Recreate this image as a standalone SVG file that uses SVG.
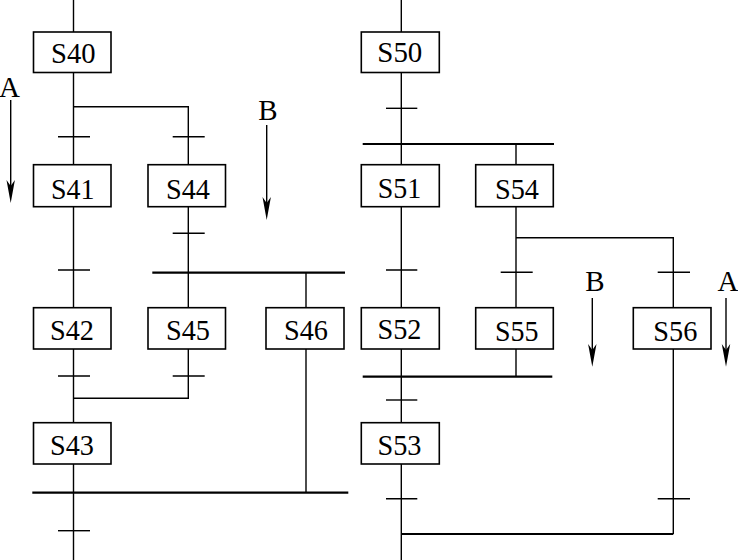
<svg xmlns="http://www.w3.org/2000/svg" width="738" height="560" viewBox="0 0 738 560">
<defs>
<style>
.box{fill:#fff;stroke:#000;stroke-width:1.6}
.t{font-family:"Liberation Serif","Times New Roman",serif;font-size:30px;fill:#000;text-anchor:middle}
.lb{font-family:"Liberation Serif","Times New Roman",serif;font-size:29px;fill:#000;text-anchor:middle}
.ln{stroke:#000;stroke-width:1.4;fill:none}
.bar{stroke:#000;stroke-width:2.2;fill:none}
.ah{fill:#000}
</style>
</defs>
<rect width="738" height="560" fill="#fff"/>
<g id="connectors">
<path class="ln" d="M73.5 0V560"/>
<path class="ln" d="M73.5 106.7H188.3V307.7"/>
<path class="ln" d="M58 136.7H90M172.7 136.7H204.7"/>
<path class="ln" d="M172.7 233.3H204.7M58 270H90"/>
<path class="bar" d="M152.3 272.7H345"/>
<path class="ln" d="M306 272.7V492.7"/>
<path class="ln" d="M58 376H90M172.7 376H204.7"/>
<path class="ln" d="M188.3 349V398.3H73.5"/>
<path class="bar" d="M32.3 492.7H348.3"/>
<path class="ln" d="M58 530.7H90"/>
<path class="ln" d="M401.3 0V560"/>
<path class="ln" d="M386 108.3H417.3"/>
<path class="bar" d="M362.7 144H554"/>
<path class="ln" d="M516 144V376.7"/>
<path class="ln" d="M516 237.7H673.3V534"/>
<path class="ln" d="M386 270H417.3M500.7 272.3H532.7M657.7 272.3H690"/>
<path class="bar" d="M362.7 376.7H552.3"/>
<path class="ln" d="M386 400H417.3"/>
<path class="ln" d="M386 498.7H417.3M657.7 498.7H690"/>
<path class="bar" d="M401.3 534H673.3"/>
</g>
<g id="S40"><rect class="box" x="33.5" y="32" width="77.5" height="40.5"/><text class="t" x="73.3" y="62.5" textLength="44.5" lengthAdjust="spacingAndGlyphs">S40</text></g>
<g id="S41"><rect class="box" x="33.5" y="164.7" width="77.5" height="42"/><text class="t" x="72.7" y="199" textLength="43.5" lengthAdjust="spacingAndGlyphs">S41</text></g>
<g id="S44"><rect class="box" x="148" y="164.7" width="77.5" height="42"/><text class="t" x="188" y="199.3" textLength="44" lengthAdjust="spacingAndGlyphs">S44</text></g>
<g id="S42"><rect class="box" x="33.5" y="307.7" width="77.5" height="41.3"/><text class="t" x="72" y="340" textLength="44" lengthAdjust="spacingAndGlyphs">S42</text></g>
<g id="S45"><rect class="box" x="148" y="307.7" width="77.5" height="41.3"/><text class="t" x="188" y="340" textLength="44" lengthAdjust="spacingAndGlyphs">S45</text></g>
<g id="S46"><rect class="box" x="266" y="307.7" width="78" height="41.3"/><text class="t" x="306" y="340" textLength="44" lengthAdjust="spacingAndGlyphs">S46</text></g>
<g id="S43"><rect class="box" x="33.5" y="422.7" width="77.5" height="41.3"/><text class="t" x="72" y="454.5" textLength="44" lengthAdjust="spacingAndGlyphs">S43</text></g>
<g id="S50"><rect class="box" x="361.3" y="32" width="78" height="40.5"/><text class="t" x="399.8" y="62.3" textLength="45" lengthAdjust="spacingAndGlyphs">S50</text></g>
<g id="S51"><rect class="box" x="361.3" y="164.7" width="78" height="42"/><text class="t" x="399.5" y="197.5" textLength="43.5" lengthAdjust="spacingAndGlyphs">S51</text></g>
<g id="S54"><rect class="box" x="475.7" y="164.7" width="77.6" height="42"/><text class="t" x="517" y="199.3" textLength="44" lengthAdjust="spacingAndGlyphs">S54</text></g>
<g id="S52"><rect class="box" x="361.3" y="307.7" width="78" height="41.3"/><text class="t" x="399.5" y="339.3" textLength="44" lengthAdjust="spacingAndGlyphs">S52</text></g>
<g id="S55"><rect class="box" x="475.7" y="307.7" width="77.6" height="41.3"/><text class="t" x="516.7" y="341" textLength="43.5" lengthAdjust="spacingAndGlyphs">S55</text></g>
<g id="S56"><rect class="box" x="633.3" y="307.7" width="77.7" height="41.3"/><text class="t" x="675.3" y="341" textLength="44" lengthAdjust="spacingAndGlyphs">S56</text></g>
<g id="S53"><rect class="box" x="361.3" y="422.7" width="78" height="41.3"/><text class="t" x="399.5" y="455" textLength="44" lengthAdjust="spacingAndGlyphs">S53</text></g>
<g id="labels">
<text class="lb" x="9.5" y="97">A</text>
<path class="ln" d="M10.7 100V192"/>
<path class="ah" d="M10.7 203L6.5 180L10.7 186L14.9 180Z"/>
<text class="lb" x="268" y="120">B</text>
<path class="ln" d="M266.7 125V210"/>
<path class="ah" d="M266.7 220L262.5 197L266.7 203L270.9 197Z"/>
<text class="lb" x="595" y="291">B</text>
<path class="ln" d="M592.3 298V356"/>
<path class="ah" d="M592.3 366.7L588.1 344L592.3 350L596.5 344Z"/>
<text class="lb" x="728" y="291">A</text>
<path class="ln" d="M726 298V356"/>
<path class="ah" d="M726 366.7L721.8 344L726 350L730.2 344Z"/>
</g>
</svg>
